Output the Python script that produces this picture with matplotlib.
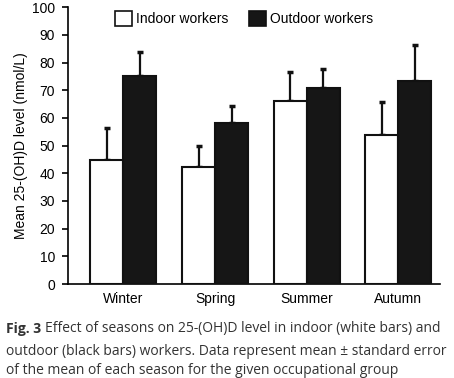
import matplotlib
matplotlib.use('Agg')
import matplotlib.pyplot as plt
import numpy as np
from matplotlib.patches import Patch

# data
seasons = ['Winter', 'Spring', 'Summer', 'Autumn']
indoor_mean = [44.7, 42.3, 66.2, 54.0]
indoor_se = [11.6, 7.5, 10.3, 11.8]
outdoor_mean = [75.0, 58.3, 71.0, 73.2]
outdoor_se = [8.8, 6.0, 6.8, 13.0]

plt.rcParams['font.family'] = ['Liberation Sans', 'DejaVu Sans']

fig = plt.figure(figsize=(4.54, 3.78), dpi=100)
ax = fig.add_axes([67.5 / 454, 1 - 284 / 378, 372 / 454, 276.7 / 378])

x = np.arange(len(seasons))
w = 0.36

ax.bar(x - w / 2, indoor_mean, w, color='white', edgecolor='#111111',
       linewidth=1.5, zorder=3)
ax.bar(x + w / 2, outdoor_mean, w, color='#161616', edgecolor='#111111',
       linewidth=1.5, zorder=3)

zeros = np.zeros(len(seasons))
ax.errorbar(x - w / 2, indoor_mean, yerr=[zeros, indoor_se], fmt='none',
            ecolor='#111111', elinewidth=1.6, capsize=2.2, capthick=2.5,
            zorder=2)
ax.errorbar(x + w / 2, outdoor_mean, yerr=[zeros, outdoor_se], fmt='none',
            ecolor='#111111', elinewidth=1.6, capsize=2.2, capthick=2.5,
            zorder=2)

ax.set_xlim(-0.61, 3.45)
ax.set_ylim(0, 100)
ax.set_yticks(np.arange(0, 101, 10))
ax.set_xticks(x)
ax.set_xticklabels(seasons)
ax.tick_params(axis='x', length=0, pad=6, labelsize=10)
ax.tick_params(axis='y', length=4.5, width=1.2, pad=4.5, labelsize=10)
for side in ['top', 'right']:
    ax.spines[side].set_visible(False)
for side in ['left', 'bottom']:
    ax.spines[side].set_linewidth(1.2)
ax.set_ylabel('Mean 25-(OH)D level (nmol/L)', fontsize=10, labelpad=3)

handles = [Patch(facecolor='white', edgecolor='#111111', linewidth=1.2),
           Patch(facecolor='#161616', edgecolor='#111111', linewidth=1.2)]
ax.legend(handles, ['Indoor workers', 'Outdoor workers'], ncol=2,
          frameon=False, loc='upper left', bbox_to_anchor=(0.094, 1.03),
          handlelength=1.2, handleheight=1.2, handletextpad=0.3,
          columnspacing=1.5, fontsize=10)

# caption
cap_col = '#333333'
cap_size = 10
t1 = fig.text(6 / 454, 1 - 333 / 378, 'Fig. 3', fontsize=cap_size,
              fontweight='bold', family='Open Sans', color=cap_col,
              va='baseline')
ax.annotate('Effect of seasons on 25-(OH)D level in indoor (white bars) and',
            xy=(1, 0), xycoords=t1, xytext=(3, 0),
            textcoords='offset points', va='bottom', fontsize=cap_size,
            family='Open Sans', color=cap_col)
fig.text(6 / 454, 1 - 355 / 378,
         'outdoor (black bars) workers. Data represent mean \u00b1 standard error',
         fontsize=cap_size, family='Open Sans', color=cap_col, va='baseline')
fig.text(6 / 454, 1 - 374 / 378,
         'of the mean of each season for the given occupational group',
         fontsize=cap_size, family='Open Sans', color=cap_col, va='baseline')

plt.savefig('out.png', dpi=100)
